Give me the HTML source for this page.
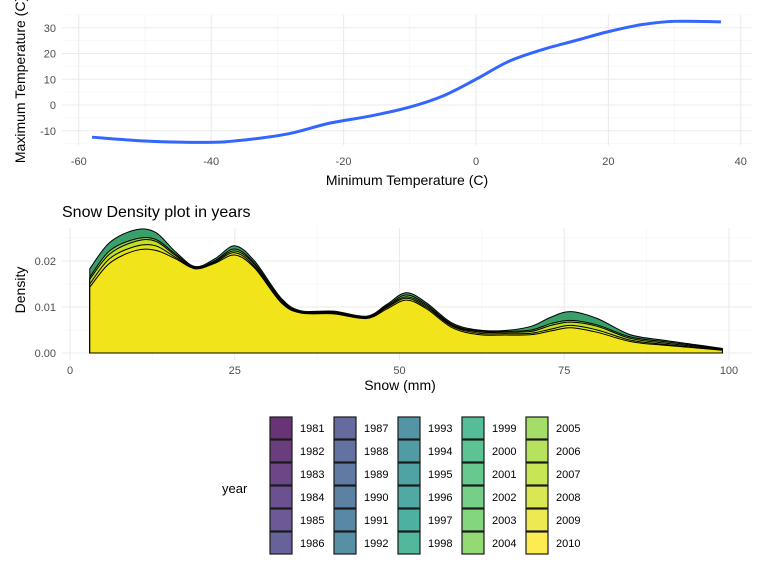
<!DOCTYPE html>
<html><head><meta charset="utf-8"><style>
body{margin:0;background:#fff;font-family:"Liberation Sans",sans-serif;}
svg text{font-family:"Liberation Sans",sans-serif;}
</style></head><body>
<svg id="s" width="768" height="576" viewBox="0 0 768 576" xmlns="http://www.w3.org/2000/svg">
<rect width="768" height="576" fill="#fff"/>
<g id="top"></g>
<g id="bot"></g>
<g id="leg"></g>
</svg>
<script>
// ---- top chart data ----
const tempX = [-58,-50,-43,-38,-33,-28,-22,-16,-10,-5,0,5,10,15,20,25,30,37];
const tempY = [-12.5,-14,-14.5,-14.3,-13,-11,-7,-4.3,-0.8,3.5,10,17,21.5,25,28.5,31.2,32.5,32.3];
const topXTicks = [-60,-40,-20,0,20,40];
const topYTicks = [-10,0,10,20,30];
// ---- bottom chart data ----
const snowX = [3,6,10,13,16,19,22,25,28,32,35,40,45,48,51,54,58,62,66,70,73,76,80,85,90,95,99];
const densTop = [0.0183,0.024,0.0268,0.0262,0.022,0.0188,0.0205,0.0233,0.0200,0.0120,0.0092,0.0091,0.0080,0.0105,0.0131,0.0110,0.0065,0.0050,0.0049,0.0058,0.0078,0.0090,0.0075,0.0040,0.0028,0.0018,0.0010];
const densMid1 = [0.0165,0.0222,0.0248,0.0247,0.0215,0.0186,0.0201,0.0226,0.0195,0.0117,0.0090,0.0089,0.0078,0.0102,0.0126,0.0106,0.0062,0.0048,0.0047,0.0050,0.0064,0.0071,0.0061,0.0035,0.0025,0.0016,0.0009];
const densMid2 = [0.0160,0.0215,0.0243,0.0243,0.0212,0.0185,0.0199,0.0222,0.0192,0.0115,0.0089,0.0088,0.0077,0.0100,0.0122,0.0103,0.0060,0.0046,0.0045,0.0047,0.0060,0.0067,0.0058,0.0032,0.0022,0.0014,0.0008];
const densMid3 = [0.0150,0.0205,0.0232,0.0233,0.0208,0.0184,0.0197,0.0218,0.0188,0.0112,0.0088,0.0087,0.0076,0.0098,0.0119,0.0100,0.0058,0.0043,0.0042,0.0043,0.0052,0.0060,0.0050,0.0028,0.0019,0.0012,0.0007];
const densLow = [0.0143,0.0195,0.0223,0.0223,0.0205,0.0183,0.0195,0.0213,0.0185,0.0110,0.0087,0.0085,0.0075,0.0095,0.0115,0.0097,0.0055,0.0040,0.0039,0.0040,0.0048,0.0055,0.0045,0.0025,0.0017,0.0011,0.0006];
const botXTicks = [0,25,50,75,100];
const botYTicks = [0,0.01,0.02];
const botYLabels = ["0.00","0.01","0.02"];
const years = [];
for (let y=1981;y<=2010;y++) years.push(y);

const NS="http://www.w3.org/2000/svg";
function mk(tag, attrs, parent){const e=document.createElementNS(NS,tag);for(const k in attrs)e.setAttribute(k,attrs[k]);parent.appendChild(e);return e;}
function smooth(pts){let d="M"+pts[0][0]+","+pts[0][1];for(let i=0;i<pts.length-1;i++){const p0=pts[i-1]||pts[i],p1=pts[i],p2=pts[i+1],p3=pts[i+2]||p2;
d+=" C"+(p1[0]+(p2[0]-p0[0])/6)+","+(p1[1]+(p2[1]-p0[1])/6)+" "+(p2[0]-(p3[0]-p1[0])/6)+","+(p2[1]-(p3[1]-p1[1])/6)+" "+p2[0]+","+p2[1];}return d;}

// ---- top chart ----
const T=document.getElementById('top');
const tx=v=>476+v*6.62, ty=v=>105-v*2.575;
const PL=62,PR=752;
for(let v=-50;v<=40;v+=20){mk('line',{x1:tx(v),x2:tx(v),y1:15,y2:145,stroke:'#f2f2f2','stroke-width':0.6},T);}
for(let v=-15;v<=35;v+=10){mk('line',{x1:PL,x2:PR,y1:ty(v),y2:ty(v),stroke:'#f2f2f2','stroke-width':0.6},T);}
topXTicks.forEach(v=>{const l=mk('line',{x1:tx(v),x2:tx(v),y1:15,y2:145,stroke:'#ebebeb','stroke-width':1.1},T);

const t=mk('text',{x:tx(v),y:165,'text-anchor':'middle','font-size':11,fill:'#4d4d4d'},T);t.textContent=v;
});
topYTicks.forEach(v=>{const l=mk('line',{x1:PL,x2:PR,y1:ty(v),y2:ty(v),stroke:'#ebebeb','stroke-width':1.1},T);

const t=mk('text',{x:56,y:ty(v)+4,'text-anchor':'end','font-size':11,fill:'#4d4d4d'},T);t.textContent=v;
});
const tl=mk('path',{d:smooth(tempX.map((x,i)=>[tx(x),ty(tempY[i])])),fill:'none',stroke:'#3366ff','stroke-width':3},T);

let t1=mk('text',{x:407,y:185,'text-anchor':'middle','font-size':14,fill:'#000'},T);t1.textContent='Minimum Temperature (C)';

let t2=mk('text',{x:0,y:0,transform:'translate(25,80) rotate(-90)','text-anchor':'middle','font-size':14,fill:'#000'},T);t2.textContent='Maximum Temperature (C)';


// ---- bottom chart ----
const B=document.getElementById('bot');
const bx=v=>70+v*6.59, by=v=>353-v*4600;
let ti=mk('text',{x:62,y:217,'font-size':16,fill:'#000'},B);ti.textContent='Snow Density plot in years';

for(let v=12.5;v<100;v+=25){mk('line',{x1:bx(v),x2:bx(v),y1:228,y2:360,stroke:'#f2f2f2','stroke-width':0.6},B);}
[0.005,0.015,0.025].forEach(v=>mk('line',{x1:PL,x2:PR,y1:by(v),y2:by(v),stroke:'#f2f2f2','stroke-width':0.6},B));
botXTicks.forEach(v=>{const l=mk('line',{x1:bx(v),x2:bx(v),y1:228,y2:360,stroke:'#ebebeb','stroke-width':1.1},B);

const t=mk('text',{x:bx(v),y:374,'text-anchor':'middle','font-size':11,fill:'#4d4d4d'},B);t.textContent=v;
});
botYTicks.forEach((v,i)=>{const l=mk('line',{x1:PL,x2:PR,y1:by(v),y2:by(v),stroke:'#ebebeb','stroke-width':1.1},B);

const t=mk('text',{x:56,y:by(v)+4,'text-anchor':'end','font-size':11,fill:'#4d4d4d'},B);t.textContent=botYLabels[i];
});
function area(vals,fill,name){const pts=snowX.map((x,i)=>[bx(x),by(vals[i])]);
const d=smooth(pts)+" L"+bx(snowX[snowX.length-1])+","+by(0)+" L"+bx(snowX[0])+","+by(0)+" Z";
const p=mk('path',{d:d,fill:fill,stroke:'#000','stroke-width':1},B);
}
area(densTop,'#3aa06a','density-area-top');
area(densMid1,'#8fd14f','density-area-mid1');
area(densMid2,'#c2df23','density-area-mid2');
area(densMid3,'#dfe318','density-area-mid3');
area(densLow,'#f2e41b','density-area-low');
let t3=mk('text',{x:400,y:390,'text-anchor':'middle','font-size':14,fill:'#000'},B);t3.textContent='Snow (mm)';

let t4=mk('text',{x:0,y:0,transform:'translate(25,290) rotate(-90)','text-anchor':'middle','font-size':14,fill:'#000'},B);t4.textContent='Density';


// ---- legend ----
const L=document.getElementById('leg');
const vir=[[68,1,84],[72,40,120],[62,74,137],[49,104,142],[38,130,142],[31,158,137],[53,183,121],[110,206,88],[181,222,43],[253,231,37]];
function vcol(t){const f=t*(vir.length-1),i=Math.min(Math.floor(f),vir.length-2),r=f-i;const c=vir[i].map((a,k)=>a+(vir[i+1][k]-a)*r);
const a=0.8;return 'rgb('+c.map(v=>Math.round(v*a+255*(1-a))).join(',')+')';}
let yl=mk('text',{x:222,y:493,'font-size':13,fill:'#000'},L);yl.textContent='year';

years.forEach((yr,i)=>{const c=Math.floor(i/6),r=i%6;const x=270+c*64,y=417+r*23;
const k=mk('rect',{x:x,y:y,width:22,height:22,fill:vcol(i/29),stroke:'#1a1a1a','stroke-width':1.2},L);

const t=mk('text',{x:x+30,y:y+15,'font-size':11,fill:'#000'},L);t.textContent=yr;
});
</script>
</body></html>
